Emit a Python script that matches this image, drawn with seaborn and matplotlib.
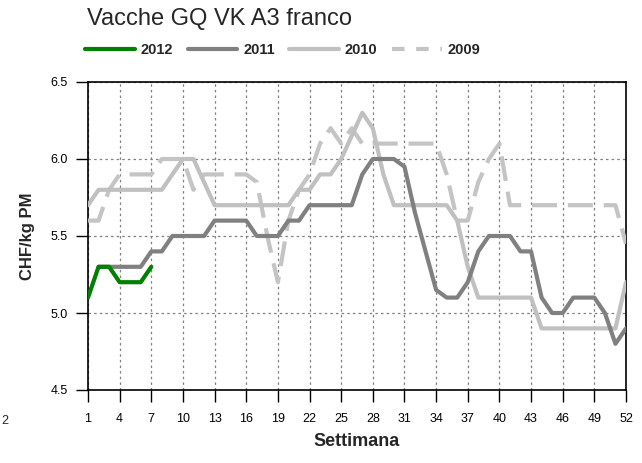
import numpy as np
import pandas as pd
import seaborn as sns
import matplotlib.pyplot as plt
from matplotlib.lines import Line2D

nan = np.nan

# Settimane e prezzi (CHF/kg PM)
settimane = list(range(1, 53))
anno_2012 = [5.1, 5.3, 5.3, 5.2, 5.2, 5.2, 5.3] + [nan] * 45
anno_2011 = [nan, 5.3, 5.3, 5.3, 5.3, 5.3, 5.4, 5.4, 5.5, 5.5,
             5.5, 5.5, 5.6, 5.6, 5.6, 5.6, 5.5, 5.5, 5.5, 5.6,
             5.6, 5.7, 5.7, 5.7, 5.7, 5.7, 5.9, 6.0, 6.0, 6.0,
             5.95, 5.65, 5.4, 5.15, 5.1, 5.1, 5.2, 5.4, 5.5, 5.5,
             5.5, 5.4, 5.4, 5.1, 5.0, 5.0, 5.1, 5.1, 5.1, 5.0,
             4.8, 4.9]
anno_2010 = [5.7, 5.8, 5.8, 5.8, 5.8, 5.8, 5.8, 5.8, 5.9, 6.0,
             6.0, 5.85, 5.7, 5.7, 5.7, 5.7, 5.7, 5.7, 5.7, 5.7,
             5.8, 5.8, 5.9, 5.9, 6.0, 6.15, 6.3, 6.2, 5.9, 5.7,
             5.7, 5.7, 5.7, 5.7, 5.7, 5.6, 5.3, 5.1, 5.1, 5.1,
             5.1, 5.1, 5.1, 4.9, 4.9, 4.9, 4.9, 4.9, 4.9, 4.9,
             4.9, 5.2]
anno_2009 = [5.6, 5.6, 5.8, 5.9, 5.9, 5.9, 5.9, 6.0, 6.0, 6.0,
             5.8, 5.9, 5.9, 5.9, 5.9, 5.9, 5.85, 5.5, 5.2, 5.6,
             5.8, 5.9, 6.1, 6.2, 6.1, 6.2, 6.1, 6.1, 6.1, 6.1,
             6.1, 6.1, 6.1, 6.1, 5.9, 5.6, 5.6, 5.85, 6.0, 6.1,
             5.7, 5.7, 5.7, 5.7, 5.7, 5.7, 5.7, 5.7, 5.7, 5.7,
             5.7, 5.45]

anni = ['2012', '2011', '2010', '2009']
colori = {'2012': '#008000', '2011': '#808080', '2010': '#c0c0c0', '2009': '#c4c4c4'}

df = pd.DataFrame({'Settimana': settimane, '2012': anno_2012, '2011': anno_2011,
                   '2010': anno_2010, '2009': anno_2009})

sns.set_theme(style='white')
plt.rcParams['font.family'] = ['Liberation Sans', 'DejaVu Sans']

fig = plt.figure(figsize=(6.42, 4.63), dpi=100)
ax = fig.add_axes([88 / 642, 73 / 463, 538 / 642, 308 / 463])

# linee: dal piu vecchio (sotto) al piu recente (sopra)
sns.lineplot(data=df, x='Settimana', y='2009', color=colori['2009'], lw=3,
             linestyle=(0, (6, 2.6)), estimator=None, ax=ax, zorder=3)
sns.lineplot(data=df, x='Settimana', y='2010', color=colori['2010'], lw=3,
             estimator=None, ax=ax, zorder=4)
sns.lineplot(data=df, x='Settimana', y='2011', color=colori['2011'], lw=3,
             estimator=None, ax=ax, zorder=5)
sns.lineplot(data=df, x='Settimana', y='2012', color=colori['2012'], lw=3,
             estimator=None, ax=ax, zorder=6)

ax.set_xlim(1, 52)
ax.set_ylim(4.5, 6.5)
ax.set_xticks(range(1, 53, 3))
ax.set_yticks([4.5, 5.0, 5.5, 6.0, 6.5])
ax.set_yticklabels(['4.5', '5.0', '5.5', '6.0', '6.5'])
ax.grid(True, color='#808080', linestyle=(0, (2, 2.5)), lw=0.9)
for s in ax.spines.values():
    s.set_color('black')
    s.set_linewidth(1.2)
ax.tick_params(axis='both', direction='out', length=8.5, width=1, color='black',
               labelsize=9, colors='black')
ax.tick_params(axis='x', pad=8, bottom=True)
ax.tick_params(axis='y', pad=6, left=True)

ax.set_xlabel('Settimana', fontsize=13, fontweight='bold', labelpad=6)
ax.set_ylabel('CHF/kg PM', fontsize=12, fontweight='bold', labelpad=11)

fig.text(87 / 642, 1 - 19 / 463, 'Vacche GQ VK A3 franco', fontsize=17,
         ha='left', va='center')

handles = [Line2D([], [], color=colori['2012'], lw=3),
           Line2D([], [], color=colori['2011'], lw=3),
           Line2D([], [], color=colori['2010'], lw=3),
           Line2D([], [], color=colori['2009'], lw=3, linestyle=(0, (3, 2.8)))]
ax.legend(handles, anni, loc='center left', bbox_to_anchor=(-0.005, 1.105),
          ncol=4, frameon=False, handlelength=3.4, handletextpad=0.4,
          columnspacing=1.0, borderaxespad=0, borderpad=0,
          prop={'weight': 'bold', 'size': 10.5})

# resto di un'etichetta sul bordo sinistro
fig.text(1 / 642, 1 - 421 / 463, '2', fontsize=9, ha='left', va='center')

plt.savefig('out.png', dpi=100)
